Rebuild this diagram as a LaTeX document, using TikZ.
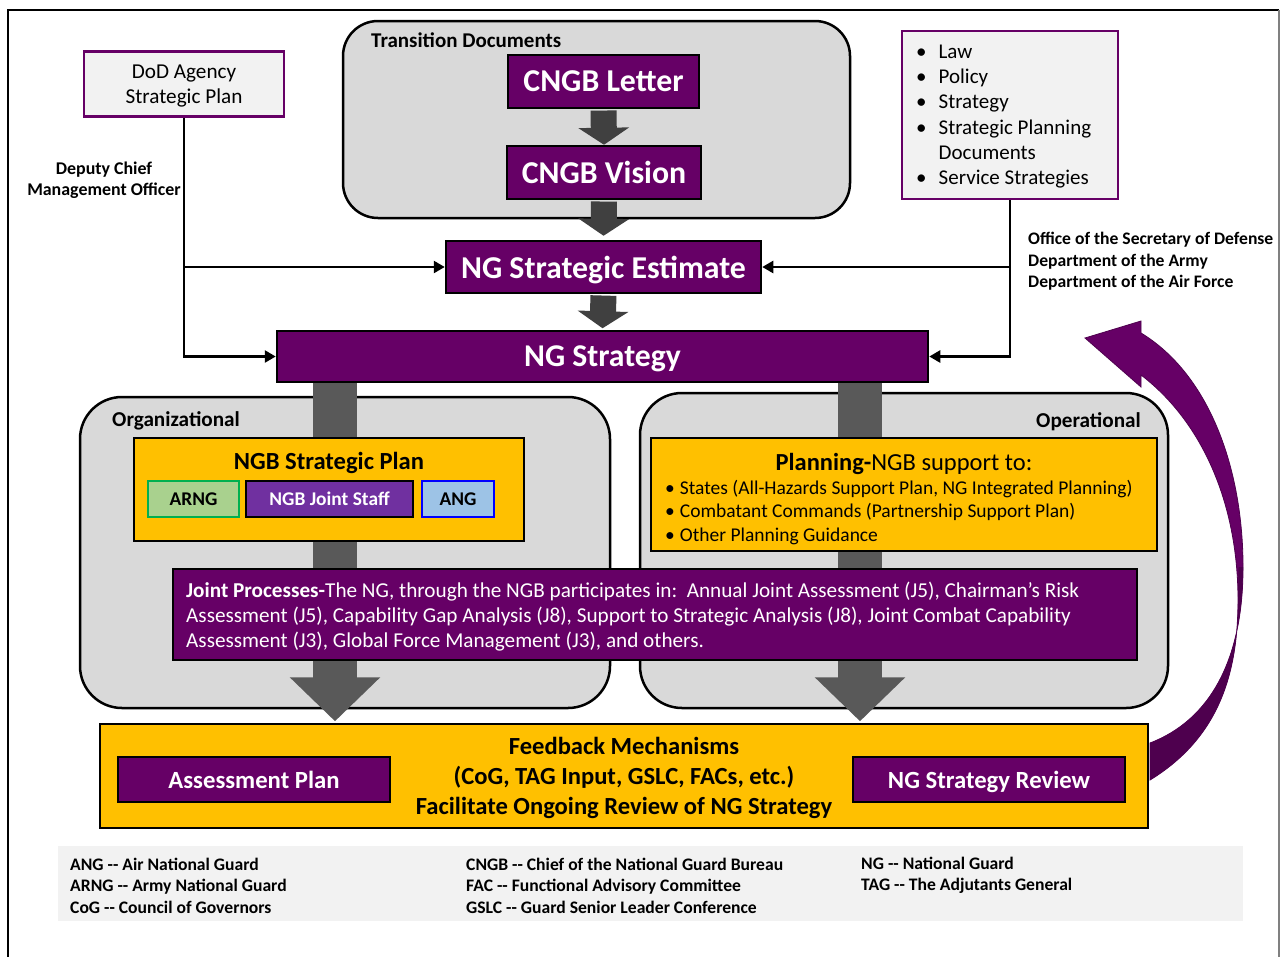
\documentclass[tikz,border=0pt]{standalone}
\usepackage{fontspec}
\setmainfont{Carlito}
\usetikzlibrary{arrows.meta,calc}
\pgfdeclarelayer{back}
\pgfdeclarelayer{mid}
\pgfsetlayers{back,mid,main}
\definecolor{ngpurple}{HTML}{660066}
\definecolor{ngdark}{HTML}{4E004E}
\definecolor{gold}{HTML}{FFC000}
\definecolor{boxgray}{HTML}{D9D9D9}
\definecolor{lightbg}{HTML}{F2F2F2}
\definecolor{arrdark}{HTML}{404040}
\definecolor{arrmid}{HTML}{595959}
\definecolor{staffpurple}{HTML}{7030A0}
\definecolor{arngfill}{HTML}{A9D18E}
\definecolor{arngline}{HTML}{00B050}
\definecolor{angfill}{HTML}{9DC3E6}
\definecolor{angline}{HTML}{0000FF}
\newcommand{\fsz}[2]{\fontsize{#1}{#2}\selectfont}
\begin{document}
\begin{tikzpicture}[x=1pt,y=-1pt,
  capc/.style={text depth=0pt},
  pbox/.style={draw=black,line width=2.5pt,fill=ngpurple,text=white,inner sep=0pt,capc},
  lbox/.style={draw=ngpurple,line width=2.5pt,fill=lightbg,inner sep=0pt},
  gbox/.style={draw=black,line width=2.5pt,fill=boxgray,inner sep=0pt},
  ybox/.style={draw=black,line width=2.5pt,fill=gold,inner sep=0pt},
  txt/.style={inner sep=0pt},
  conn/.style={line width=2.5pt,-{Triangle[length=11pt,width=12pt]}},
  tarr/.style={line width=26pt,draw=arrdark,-{Triangle[length=17pt,width=50pt]}},
  barr/.style={line width=44pt,draw=arrmid,-{Triangle[length=44pt,width=88pt]}}
]
\useasboundingbox (0,0) rectangle (1281,956);
\begin{pgfonlayer}{back}
\fill[white] (0,0) rectangle (1281,956);
\end{pgfonlayer}
% outer frame
\draw[line width=2pt] (8,960) -- (8,10) -- (1279,10);
\draw[line width=2pt,draw=gray] (1279,10) -- (1279,960);

% background rounded boxes
\begin{pgfonlayer}{back}
\node[gbox,rounded corners=35pt,minimum width=507pt,minimum height=197pt] (trans) at (596.5,119.5) {};
\node[gbox,rounded corners=42pt,minimum width=530pt,minimum height=311pt] (org) at (345,552.5) {};
\node[gbox,rounded corners=42pt,minimum width=528pt,minimum height=315pt] (ops) at (904,550.5) {};
\end{pgfonlayer}

\node[txt,capc,anchor=west,font=\fsz{21}{25}\bfseries] (transt) at (371,40) {Transition Documents};
\node[txt,capc,anchor=west,font=\fsz{21.2}{25}\bfseries] (orgt) at (112,419) {Organizational};
\node[txt,capc,anchor=east,font=\fsz{21.2}{25}\bfseries] (opst) at (1141,420) {Operational};

% top nodes
\node[lbox,minimum width=200pt,minimum height=65pt] (dod) at (184,84) {};
\node[txt,align=center,font=\fsz{21.2}{25}] (dodt) at (184,86) {DoD Agency\\Strategic Plan};
\node[lbox,minimum width=216pt,minimum height=168pt] (lst) at (1010,115) {};
\node[txt,anchor=west,font=\fsz{21}{25.2}] (lsttext) at (916,116.5) {\begin{tabular}{@{}l@{\hspace{12pt}}l@{}}\textbullet&Law\\\textbullet&Policy\\\textbullet&Strategy\\\textbullet&Strategic Planning\\&Documents\\\textbullet&Service Strategies\end{tabular}};

\node[pbox,minimum width=191pt,minimum height=53pt,font=\fsz{31.8}{36}\bfseries] (letter) at (603.5,81.5) {CNGB Letter};
\node[pbox,minimum width=194pt,minimum height=53pt,font=\fsz{31.8}{36}\bfseries] (vision) at (604,172.5) {CNGB Vision};
\node[pbox,minimum width=315pt,minimum height=52pt,font=\fsz{31.8}{36}\bfseries] (estimate) at (603.5,267) {NG Strategic Estimate};
\node[pbox,minimum width=651pt,minimum height=51pt,font=\fsz{31.7}{36}\bfseries] (strategy) at (602.5,356.5) {NG Strategy};

\node[txt,align=center,font=\fsz{17.9}{21}\bfseries] (dcmo) at (104,180.5) {Deputy Chief\\Management Officer};
\node[txt,anchor=west,align=left,font=\fsz{17.6}{21.5}\bfseries] (osd) at (1028,261.5) {Office of the Secretary of Defense\\Department of the Army\\Department of the Air Force};

% connectors
\draw[conn] (dod.south) |- (strategy.west);
\draw[conn] (dod.south |- estimate.west) -- (estimate.west);
\draw[conn] (lst.south) |- (strategy.east);
\draw[conn] (lst.south |- estimate.east) -- (estimate.east);

\draw[tarr,shorten <=1.3pt] (letter.south) -- (vision.north);
\draw[tarr,shorten <=1.3pt,shorten >=4pt] (vision.south) -- (estimate.north);
\draw[tarr,shorten <=1.3pt,shorten >=1.5pt] (estimate.south) -- (strategy.north);

% feedback box
\node[ybox,minimum width=1048pt,minimum height=104pt] (feedback) at (624,776) {};
\node[txt,align=center,font=\fsz{24.6}{30}\bfseries] (feedbackt) at (624,778) {Feedback Mechanisms\\(CoG, TAG Input, GSLC, FACs, etc.)\\Facilitate Ongoing Review of NG Strategy};
\node[pbox,minimum width=272pt,minimum height=45pt,font=\fsz{24.7}{28}\bfseries] (aplan) at (254,779.5) {Assessment Plan};
\node[pbox,minimum width=272pt,minimum height=45pt,font=\fsz{24.7}{28}\bfseries] (review) at (989,779.5) {NG Strategy Review};

% big gray arrows
\coordinate (lsrc) at (335,383);
\coordinate (rsrc) at (860,383);
\begin{pgfonlayer}{mid}
\draw[barr,shorten >=1.5pt] (lsrc) -- (lsrc |- feedback.north);
\draw[barr,shorten >=1.5pt] (rsrc) -- (rsrc |- feedback.north);
\end{pgfonlayer}

% organizational contents
\node[ybox,minimum width=390pt,minimum height=103pt] (ngbsp) at (329,489.5) {};
\node[txt,capc,font=\fsz{24.6}{28}\bfseries] (ngbspt) at (329,461) {NGB Strategic Plan};
\node[draw=arngline,fill=arngfill,line width=2.5pt,minimum width=91pt,minimum height=36pt,inner sep=0pt,capc,font=\fsz{19.4}{22}\bfseries] (arng) at (193.5,499) {ARNG};
\node[draw=black,fill=staffpurple,text=white,line width=2.5pt,minimum width=167pt,minimum height=36pt,inner sep=0pt,capc,font=\fsz{19.4}{22}\bfseries] (staff) at (329.5,499) {NGB Joint Staff};
\node[draw=angline,fill=angfill,line width=2.5pt,minimum width=72pt,minimum height=36pt,inner sep=0pt,capc,font=\fsz{19.4}{22}\bfseries] (ang) at (458,499) {ANG};

% operational contents
\node[ybox,minimum width=506pt,minimum height=113pt] (planning) at (904,494.5) {};
\node[txt,capc,font=\fsz{24.5}{28}] (planningt) at (904,462) {\textbf{Planning-}NGB support to:};
\node[txt,anchor=west,align=left,font=\fsz{19.5}{23.5}] (planningl) at (665,512.5) {\textbullet\hspace{5pt}States (All-Hazards Support Plan, NG Integrated Planning)\\\textbullet\hspace{5pt}Combatant Commands (Partnership Support Plan)\\\textbullet\hspace{5pt}Other Planning Guidance};

% joint processes
\node[pbox,minimum width=964pt,minimum height=91pt] (joint) at (655,614.5) {};
\node[txt,anchor=west,align=left,text=white,font=\fsz{21.2}{25}] (jointt) at (186,616.5) {\textbf{Joint Processes-}The NG, through the NGB participates in:\ \ Annual Joint Assessment (J5), Chairman’s Risk\\Assessment (J5), Capability Gap Analysis (J8), Support to Strategic Analysis (J8), Joint Combat Capability\\Assessment (J3), Global Force Management (J3), and others.};

% curved feedback arrow
\fill[ngpurple,draw=ngdark,line width=0.8pt] (1085,338) -- (1141,321) -- (1141,333)
  .. controls (1210,375) and (1243,470) .. (1243,567)
  .. controls (1243,660) and (1210,720) .. (1150,743)
  -- (1150,780)
  .. controls (1215,740) and (1238,680) .. (1238,600)
  .. controls (1238,500) and (1200,420) .. (1141,375)
  -- (1141,387) -- cycle;
\fill[ngdark] (1243,567)
  .. controls (1243,660) and (1210,720) .. (1150,743)
  -- (1150,780)
  .. controls (1215,740) and (1238,680) .. (1238,600)
  -- (1238.5,567) -- cycle;

% legend
\node[fill=lightbg,minimum width=1185pt,minimum height=75pt,inner sep=0pt] (legend) at (650.5,883.5) {};
\node[txt,anchor=west,align=left,font=\fsz{17.6}{21.5}\bfseries] (leg1) at (70,885.5) {ANG -{}- Air National Guard\\ARNG -{}- Army National Guard\\CoG -{}- Council of Governors};
\node[txt,anchor=west,align=left,font=\fsz{17.6}{21.5}\bfseries] (leg2) at (466,885.5) {CNGB -{}- Chief of the National Guard Bureau\\FAC -{}- Functional Advisory Committee\\GSLC -{}- Guard Senior Leader Conference};
\node[txt,anchor=west,align=left,font=\fsz{17.6}{21.5}\bfseries] (leg3) at (861,875.5) {NG -{}- National Guard\\TAG -{}- The Adjutants General};
\end{tikzpicture}
\end{document}
